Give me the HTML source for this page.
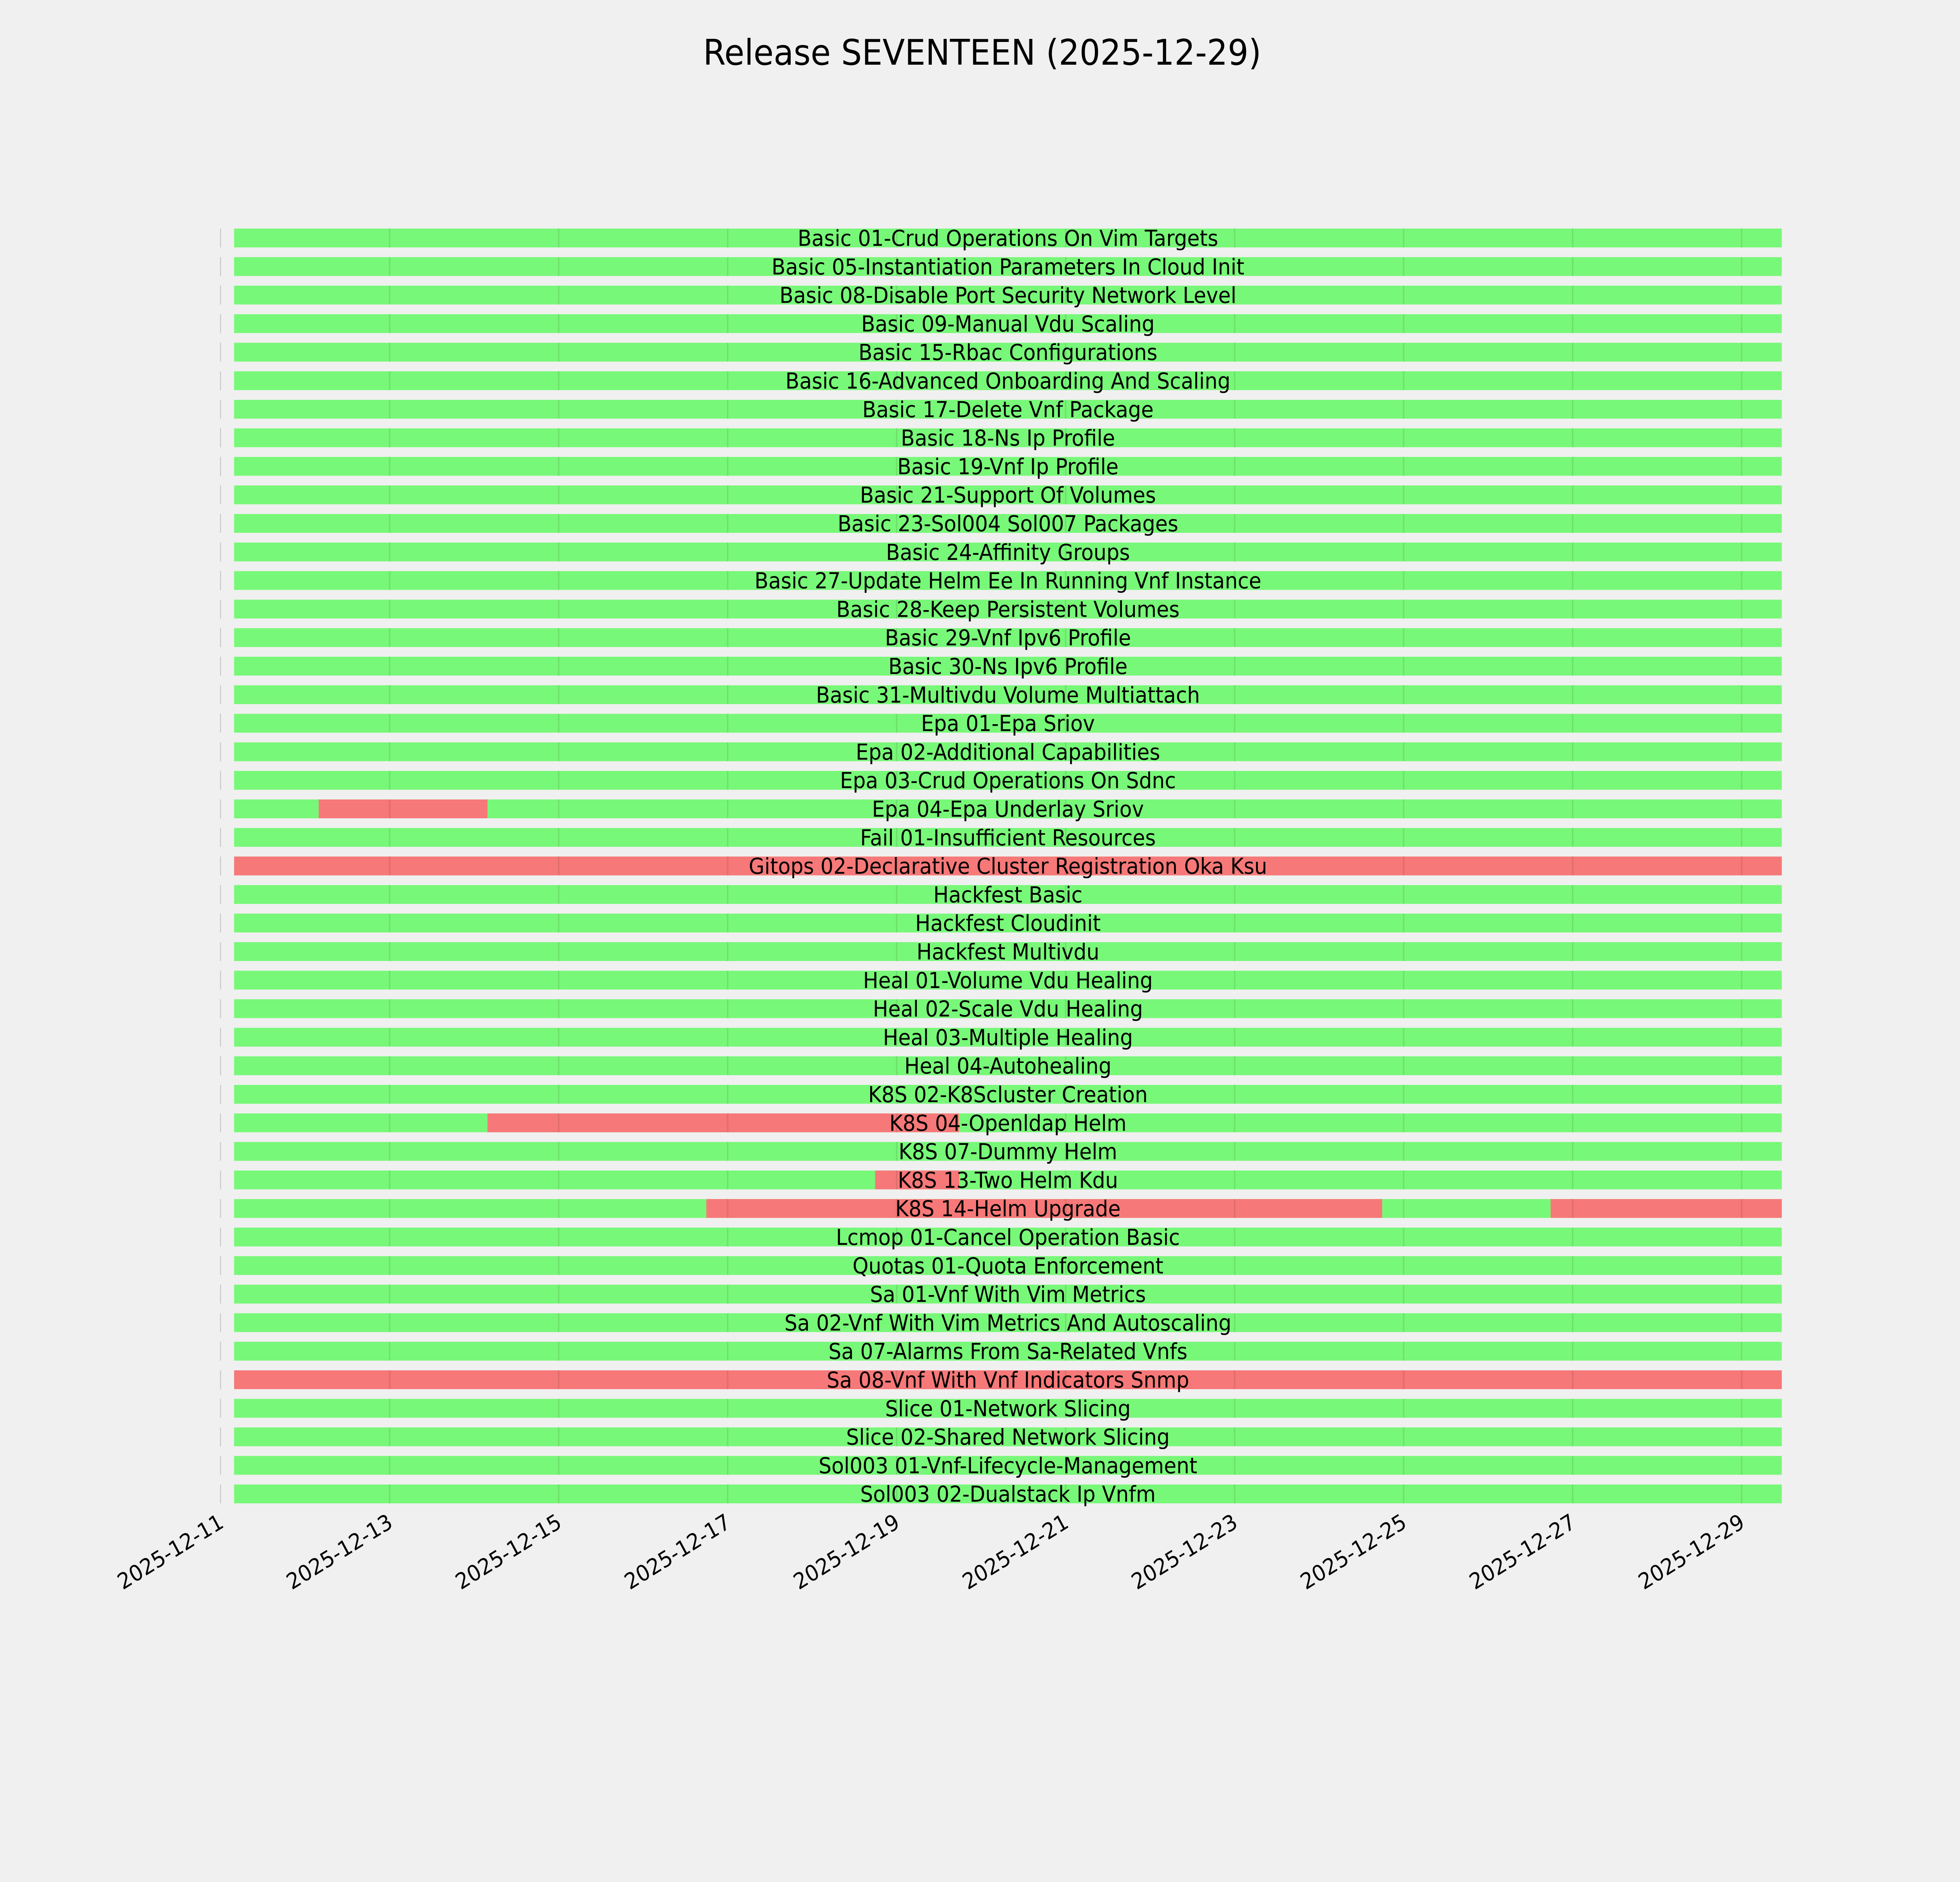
<!DOCTYPE html>
<html><head><meta charset="utf-8"><style>
html,body{margin:0;padding:0;background:#f0f0f0;width:100%;height:100%;overflow:hidden;}
svg{display:block;position:absolute;left:0;top:0;width:100%;height:100%;}
text{font-family:"DejaVu Sans","Liberation Sans",sans-serif;fill:#000;}
</style></head><body>
<svg id="s" viewBox="0 0 5400 4800" preserveAspectRatio="none" xmlns="http://www.w3.org/2000/svg">
<rect width="5400" height="4800" fill="#f0f0f0"/>
<text x="2706" y="165" font-size="90" text-anchor="middle">Release SEVENTEEN (2025-12-29)</text>
<g id="bars"></g>
<g id="ticks"></g>
</svg>
<script>
var names=["Basic 01-Crud Operations On Vim Targets","Basic 05-Instantiation Parameters In Cloud Init","Basic 08-Disable Port Security Network Level","Basic 09-Manual Vdu Scaling","Basic 15-Rbac Configurations","Basic 16-Advanced Onboarding And Scaling","Basic 17-Delete Vnf Package","Basic 18-Ns Ip Profile","Basic 19-Vnf Ip Profile","Basic 21-Support Of Volumes","Basic 23-Sol004 Sol007 Packages","Basic 24-Affinity Groups","Basic 27-Update Helm Ee In Running Vnf Instance","Basic 28-Keep Persistent Volumes","Basic 29-Vnf Ipv6 Profile","Basic 30-Ns Ipv6 Profile","Basic 31-Multivdu Volume Multiattach","Epa 01-Epa Sriov","Epa 02-Additional Capabilities","Epa 03-Crud Operations On Sdnc","Epa 04-Epa Underlay Sriov","Fail 01-Insufficient Resources","Gitops 02-Declarative Cluster Registration Oka Ksu","Hackfest Basic","Hackfest Cloudinit","Hackfest Multivdu","Heal 01-Volume Vdu Healing","Heal 02-Scale Vdu Healing","Heal 03-Multiple Healing","Heal 04-Autohealing","K8S 02-K8Scluster Creation","K8S 04-Openldap Helm","K8S 07-Dummy Helm","K8S 13-Two Helm Kdu","K8S 14-Helm Upgrade","Lcmop 01-Cancel Operation Basic","Quotas 01-Quota Enforcement","Sa 01-Vnf With Vim Metrics","Sa 02-Vnf With Vim Metrics And Autoscaling","Sa 07-Alarms From Sa-Related Vnfs","Sa 08-Vnf With Vnf Indicators Snmp","Slice 01-Network Slicing","Slice 02-Shared Network Slicing","Sol003 01-Vnf-Lifecycle-Management","Sol003 02-Dualstack Ip Vnfm"];
var X0=645,X1=4909;
var red={20:[[878,1343]],22:[[X0,X1]],31:[[1343,2642]],33:[[2411,2643]],34:[[1946,3808],[4272,X1]],40:[[X0,X1]]};
var G="#78f878",R="#f77878";
var h="";
var grids=[];for(var k=1;k<=9;k++)grids.push(608+465.6*k);
for(var i=0;i<names.length;i++){
 var y=583+i*72.8;
 h+='<rect x="606" y="'+y+'" width="3" height="48" fill="#cccccc"/>';
 h+='<rect x="'+X0+'" y="'+y+'" width="'+(X1-X0)+'" height="48" fill="'+G+'"/>';
 (red[i]||[]).forEach(function(s){h+='<rect x="'+s[0]+'" y="'+y+'" width="'+(s[1]-s[0])+'" height="48" fill="'+R+'"/>';});
 grids.forEach(function(g){if(g<X1)h+='<rect x="'+(g-2)+'" y="'+y+'" width="4" height="48" fill="rgba(0,0,0,0.09)"/>';});
 h+='<text x="2777" y="'+(y+44)+'" font-size="56" text-anchor="middle">'+names[i]+'</text>';
}
document.getElementById("bars").innerHTML=h;
var t="";
for(var k=0;k<=9;k++){
 var x=608+465.6*k, d=11+2*k;
 t+='<text font-size="56" text-anchor="end" transform="translate('+(x+12)+',3893) rotate(-30)">2025-12-'+d+'</text>';
}
document.getElementById("ticks").innerHTML=t;
</script>
</body></html>
